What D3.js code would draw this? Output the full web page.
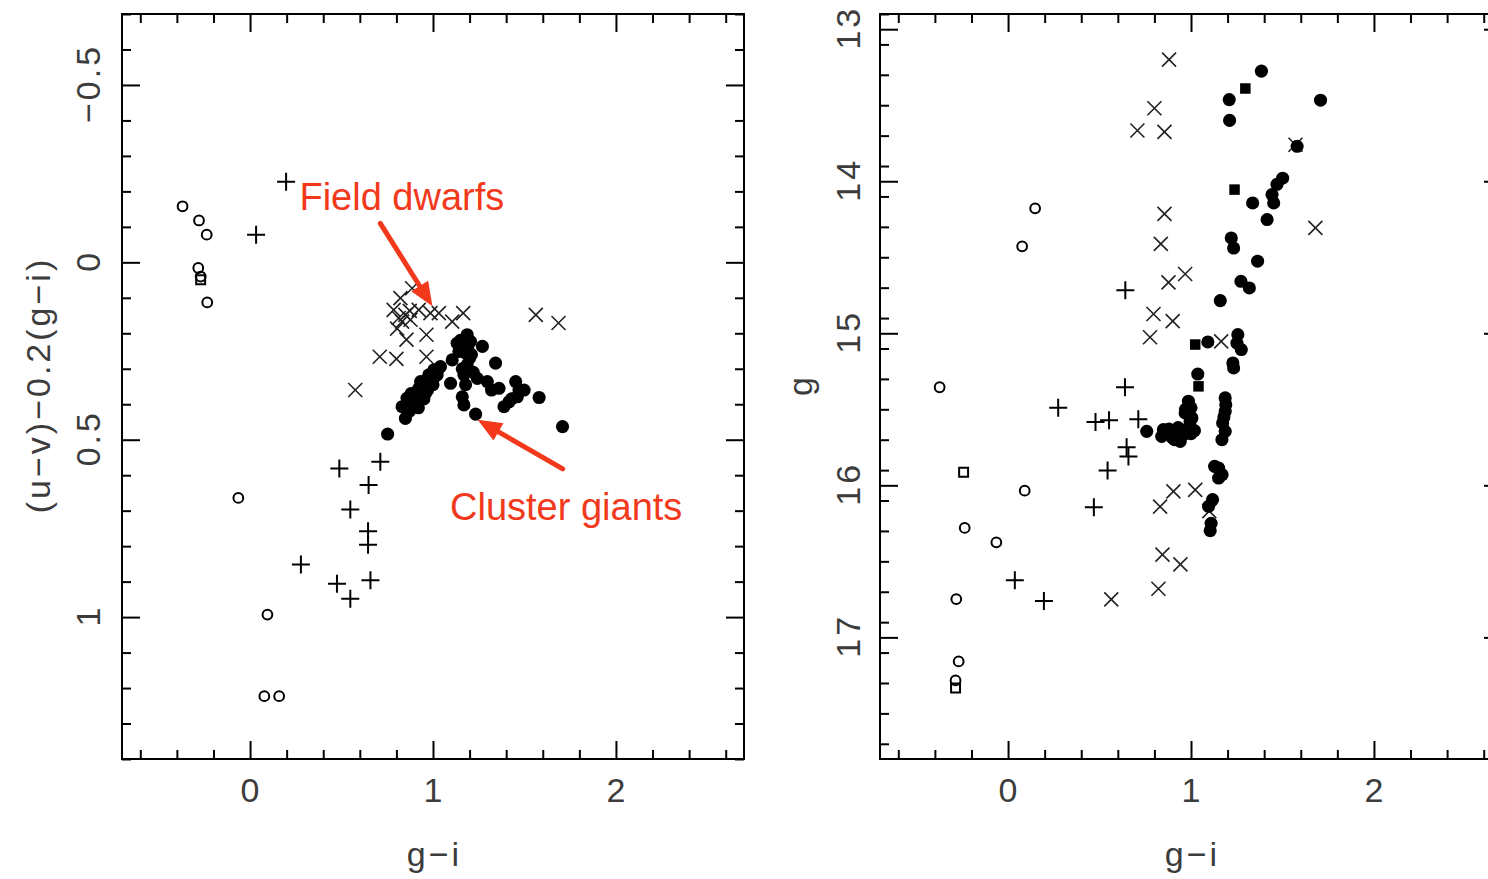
<!DOCTYPE html>
<html>
<head>
<meta charset="utf-8">
<script src="https://cdn.jsdelivr.net/npm/d3@7"></script>
<style>
body { margin: 0; background: #fff; overflow: hidden; }
.lbl { font-family: 'Liberation Sans', Arial, sans-serif; font-size: 34px; fill: #3c3c3c; letter-spacing: 3px; }
</style>
</head>
<body>
<div id="chart"></div>
<script>
// ---- data: [g-i, y] ----
// left panel, y = (u-v)-0.2(g-i)
var leftOpen = [[-0.369,-0.158],[-0.279,-0.118],[-0.237,-0.078],[-0.283,0.016],[-0.27,0.04],
  [-0.234,0.113],[-0.064,0.664],[0.095,0.993],[0.078,1.223],[0.159,1.223]];
var leftSquare = [[-0.27,0.049]];
var leftPlus = [[0.197,-0.227],[0.033,-0.078],[0.488,0.581],[0.712,0.562],[0.648,0.628],
  [0.548,0.697],[0.645,0.758],[0.645,0.796],[0.278,0.852],[0.475,0.906],[0.658,0.896],[0.548,0.948]];
var leftCross = [[0.575,0.36],[0.709,0.266],[0.8,0.272],[0.964,0.266],[0.964,0.204],[0.855,0.218],
  [0.804,0.187],[0.785,0.134],[0.822,0.101],[0.886,0.073],[0.849,0.148],[0.877,0.162],[0.831,0.167],
  [0.922,0.134],[0.986,0.143],[1.032,0.143],[1.105,0.167],[1.165,0.143],[1.562,0.148],[1.686,0.171],
  [0.873,0.137],[0.813,0.157]];
var leftFilled = [[0.752,0.484],[0.849,0.44],[0.831,0.407],[0.877,0.393],[0.895,0.374],[0.922,0.355],
  [0.95,0.336],[0.977,0.317],[1.005,0.303],[1.041,0.294],[0.913,0.397],[0.877,0.412],[0.986,0.345],
  [0.959,0.369],[1.023,0.317],[0.858,0.383],[0.932,0.336],[0.94,0.36],[0.9,0.39],[1.0,0.33],
  [0.87,0.42],[0.89,0.40],[0.91,0.38],[0.93,0.37],[0.96,0.35],[0.98,0.33],[1.01,0.32],[1.03,0.30],
  [0.92,0.41],[0.95,0.385],[0.97,0.36],[1.0,0.345],[0.86,0.40],[0.88,0.37],
  [1.187,0.204],[1.132,0.228],[1.27,0.237],[1.178,0.256],[1.105,0.275],[1.187,0.289],[1.169,0.317],
  [1.096,0.341],[1.178,0.345],[1.242,0.327],[1.342,0.284],[1.297,0.336],[1.361,0.355],[1.452,0.336],
  [1.498,0.36],[1.461,0.379],[1.416,0.393],[1.388,0.407],[1.58,0.381],[1.16,0.379],[1.169,0.402],
  [1.233,0.428],[1.708,0.463],[1.205,0.223],[1.142,0.251],[1.2,0.27],[1.22,0.31],[1.32,0.36],
  [1.15,0.22],[1.19,0.24],[1.21,0.26],[1.16,0.30],[1.43,0.385],[1.47,0.36]];

// right panel, y = g
var rightOpen = [[-0.374,15.355],[0.091,16.035],[-0.237,16.28],[-0.064,16.375],[-0.283,16.748],
  [-0.27,17.158],[-0.287,17.283],[0.148,14.178],[0.077,14.428]];
var rightSquare = [[-0.243,15.914],[-0.287,17.333]];
var rightPlus = [[0.639,15.355],[0.274,15.49],[0.478,15.584],[0.552,15.572],[0.712,15.566],
  [0.648,15.75],[0.658,15.81],[0.544,15.903],[0.469,16.145],[0.037,16.625],[0.196,16.76],[0.641,14.717]];
var rightCross = [[0.88,13.2],[0.8,13.52],[0.707,13.666],[0.855,13.675],[1.571,13.76],[0.855,14.215],
  [1.68,14.307],[0.835,14.412],[0.968,14.61],[0.877,14.665],[0.795,14.873],[0.9,14.92],[0.776,15.026],
  [1.165,15.053],[0.904,16.04],[1.023,16.03],[0.831,16.14],[1.1,16.17],[0.844,16.456],[0.942,16.52],
  [0.822,16.68],[0.564,16.75]];
var rightFilled = [[1.385,13.276],[1.209,13.463],[1.708,13.467],[1.211,13.6],[1.58,13.77],
  [1.501,13.98],[1.47,14.02],[1.443,14.088],[1.452,14.143],[1.337,14.143],[1.416,14.252],[1.22,14.373],
  [1.233,14.439],[1.364,14.526],[1.273,14.658],[1.319,14.702],[1.16,14.785],[1.092,15.057],
  [1.256,15.009],[1.251,15.064],[1.275,15.107],[1.229,15.195],[1.233,15.228],[1.037,15.268],
  [0.986,15.447],[0.968,15.524],[1.005,15.557],[0.758,15.645],[0.849,15.634],[0.886,15.667],
  [0.922,15.645],[0.959,15.667],[0.986,15.623],[1.019,15.64],[0.84,15.678],[0.941,15.711],[0.995,15.579],
  [0.87,15.65],[0.9,15.69],[0.88,15.63],[0.93,15.62],[0.96,15.64],[1.0,15.66],[0.91,15.7],[0.97,15.5],
  [1.0,15.49],[1.187,15.425],[1.19,15.47],[1.187,15.513],[1.18,15.55],[1.173,15.59],[1.187,15.645],
  [1.169,15.7],[1.151,15.887],[1.17,15.93],[1.151,15.952],[1.118,16.094],[1.096,16.138],[1.11,16.25],
  [1.105,16.298],[1.129,15.875]];
var rightFilledSq = [[1.297,13.39],[1.238,14.055],[1.023,15.074],[1.041,15.349]];

// tick labels
var xTicks = [0, 1, 2];
var leftYTicks = [-0.5, 0, 0.5, 1];
var leftYLabels = ["\u22120.5", "0", "0.5", "1"];
var rightYTicks = [13, 14, 15, 16, 17];

var W = 1488, H = 879;
var red = "#f2391c";
var font = "'Liberation Sans', Arial, sans-serif";

var svg = d3.select("#chart").append("svg")
  .attr("width", W)
  .attr("height", H);

var range = function(a, b, step) {
  var out = [];
  for (var v = a; v <= b + 1e-9; v += step) out.push(Math.round(v * 1000) / 1000);
  return out;
};

var panel = function(left, xDom, yDom, yMajor, yMinorStep, yMajorStep) {
  var top = 14, bottom = 759, width = 622;
  var x = d3.scaleLinear().domain(xDom).range([left, left + width]);
  var y = d3.scaleLinear().domain(yDom).range([top, bottom]);
  var g = svg.append("g");

  var xMajor = range(-1, 3, 1).filter(function(v) { return v >= xDom[0] && v <= xDom[1]; });
  var xMinor = range(-0.6, 2.6, 0.2).filter(function(v) { return xMajor.indexOf(v) < 0; });
  var yMinor = range(yDom[0], yDom[1], yMinorStep).filter(function(v) {
    return Math.abs(v / yMajorStep - Math.round(v / yMajorStep)) > 1e-6;
  });

  var addAxis = function(axis, tr) {
    var a = g.append("g").attr("transform", tr).call(axis);
    a.select(".domain").remove();
    a.selectAll("line").attr("stroke", "#000").attr("stroke-width", 2);
    a.selectAll("text").remove();
  };

  addAxis(d3.axisBottom(x).tickValues(xMajor).tickSize(-18), "translate(0," + bottom + ")");
  addAxis(d3.axisBottom(x).tickValues(xMinor).tickSize(-9), "translate(0," + bottom + ")");
  addAxis(d3.axisTop(x).tickValues(xMajor).tickSize(-18), "translate(0," + top + ")");
  addAxis(d3.axisTop(x).tickValues(xMinor).tickSize(-9), "translate(0," + top + ")");
  addAxis(d3.axisLeft(y).tickValues(yMajor).tickSize(-18), "translate(" + left + ",0)");
  addAxis(d3.axisLeft(y).tickValues(yMinor).tickSize(-9), "translate(" + left + ",0)");
  addAxis(d3.axisRight(y).tickValues(yMajor).tickSize(-18), "translate(" + (left + width) + ",0)");
  addAxis(d3.axisRight(y).tickValues(yMinor).tickSize(-9), "translate(" + (left + width) + ",0)");

  g.append("rect")
    .attr("x", left).attr("y", top)
    .attr("width", width).attr("height", bottom - top)
    .attr("fill", "none").attr("stroke", "#000").attr("stroke-width", 2);

  g.selectAll(".xl").data(xTicks).enter().append("text")
    .attr("class", "lbl")
    .attr("x", function(d) { return x(d) + 1.5; })
    .attr("y", 802)
    .attr("text-anchor", "middle")
    .text(function(d) { return d; });

  g.append("text")
    .attr("class", "lbl")
    .attr("x", x(1) + 1.5).attr("y", 866)
    .attr("text-anchor", "middle")
    .text("g\u2212i");

  return {x: x, y: y, g: g};
};

var drawMarks = function(p, open, square, plus, cross, filled, filledSq) {
  var tr = function(d) { return "translate(" + p.x(d[0]) + "," + p.y(d[1]) + ")"; };
  p.g.selectAll(".open").data(open).enter().append("path")
    .attr("d", d3.symbol().type(d3.symbolCircle).size(75))
    .attr("transform", tr)
    .attr("fill", "none").attr("stroke", "#000").attr("stroke-width", 2);
  p.g.selectAll(".sq").data(square).enter().append("path")
    .attr("d", d3.symbol().type(d3.symbolSquare).size(80))
    .attr("transform", tr)
    .attr("fill", "none").attr("stroke", "#000").attr("stroke-width", 2);
  p.g.selectAll(".plus").data(plus).enter().append("path")
    .attr("d", "M-9,0H9M0,-9V9")
    .attr("transform", tr)
    .attr("stroke", "#000").attr("stroke-width", 2);
  p.g.selectAll(".cross").data(cross).enter().append("path")
    .attr("d", "M-7,-7L7,7M-7,7L7,-7")
    .attr("transform", tr)
    .attr("stroke", "#222").attr("stroke-width", 1.6);
  p.g.selectAll(".fill").data(filled).enter().append("path")
    .attr("d", d3.symbol().type(d3.symbolCircle).size(135))
    .attr("transform", tr)
    .attr("fill", "#000");
  p.g.selectAll(".fsq").data(filledSq).enter().append("path")
    .attr("d", d3.symbol().type(d3.symbolSquare).size(110))
    .attr("transform", tr)
    .attr("fill", "#000");
};

// ---- left panel ----
var L = panel(122, [-0.7, 2.7], [-0.7, 1.4], range(-0.5, 1, 0.5), 0.1, 0.5);
drawMarks(L, leftOpen, leftSquare, leftPlus, leftCross, leftFilled, []);

L.g.selectAll(".yl").data(leftYTicks).enter().append("text")
  .attr("class", "lbl")
  .attr("transform", function(d) { return "translate(100," + (L.y(d) - 1.5) + ") rotate(-90)"; })
  .attr("text-anchor", "middle")
  .text(function(d, i) { return leftYLabels[i]; });

L.g.append("text")
  .attr("class", "lbl")
  .attr("transform", "translate(50,385) rotate(-90)")
  .attr("text-anchor", "middle")
  .text("(u\u2212v)\u22120.2(g\u2212i)");

// ---- right panel ----
var R = panel(880, [-0.7, 2.7], [12.9, 17.8], rightYTicks, 0.2, 1);
drawMarks(R, rightOpen, rightSquare, rightPlus, rightCross, rightFilled, rightFilledSq);

R.g.selectAll(".yl").data(rightYTicks).enter().append("text")
  .attr("class", "lbl")
  .attr("transform", function(d) { return "translate(860," + (R.y(d) - 1.5) + ") rotate(-90)"; })
  .attr("text-anchor", "middle")
  .text(function(d) { return d; });

R.g.append("text")
  .attr("class", "lbl")
  .attr("transform", "translate(812,385) rotate(-90)")
  .attr("text-anchor", "middle")
  .text("g");

// ---- annotations (in data units of the left panel) ----
var arrow = function(x0, y0, x1, y1) {
  var ax = L.x(x0), ay = L.y(y0), bx = L.x(x1), by = L.y(y1);
  var ang = Math.atan2(by - ay, bx - ax);
  var hl = 24, hw = 10;
  var cx = bx - hl * Math.cos(ang), cy = by - hl * Math.sin(ang);
  L.g.append("line")
    .attr("x1", ax).attr("y1", ay).attr("x2", cx).attr("y2", cy)
    .attr("stroke", red).attr("stroke-width", 5).attr("stroke-linecap", "round");
  var pts = [[bx, by],
    [cx + hw * Math.sin(ang), cy - hw * Math.cos(ang)],
    [cx - hw * Math.sin(ang), cy + hw * Math.cos(ang)]];
  L.g.append("polygon")
    .attr("points", pts.map(function(p) { return p.join(","); }).join(" "))
    .attr("fill", red);
};

L.g.append("text")
  .attr("x", L.x(0.27)).attr("y", L.y(-0.148))
  .style("font-family", font).style("font-size", "38px").style("fill", red)
  .text("Field dwarfs");
arrow(0.712, -0.11, 0.997, 0.124);

L.g.append("text")
  .attr("x", L.x(1.093)).attr("y", L.y(0.725))
  .style("font-family", font).style("font-size", "38px").style("fill", red)
  .text("Cluster giants");
arrow(1.709, 0.582, 1.244, 0.444);
</script>
</body>
</html>
